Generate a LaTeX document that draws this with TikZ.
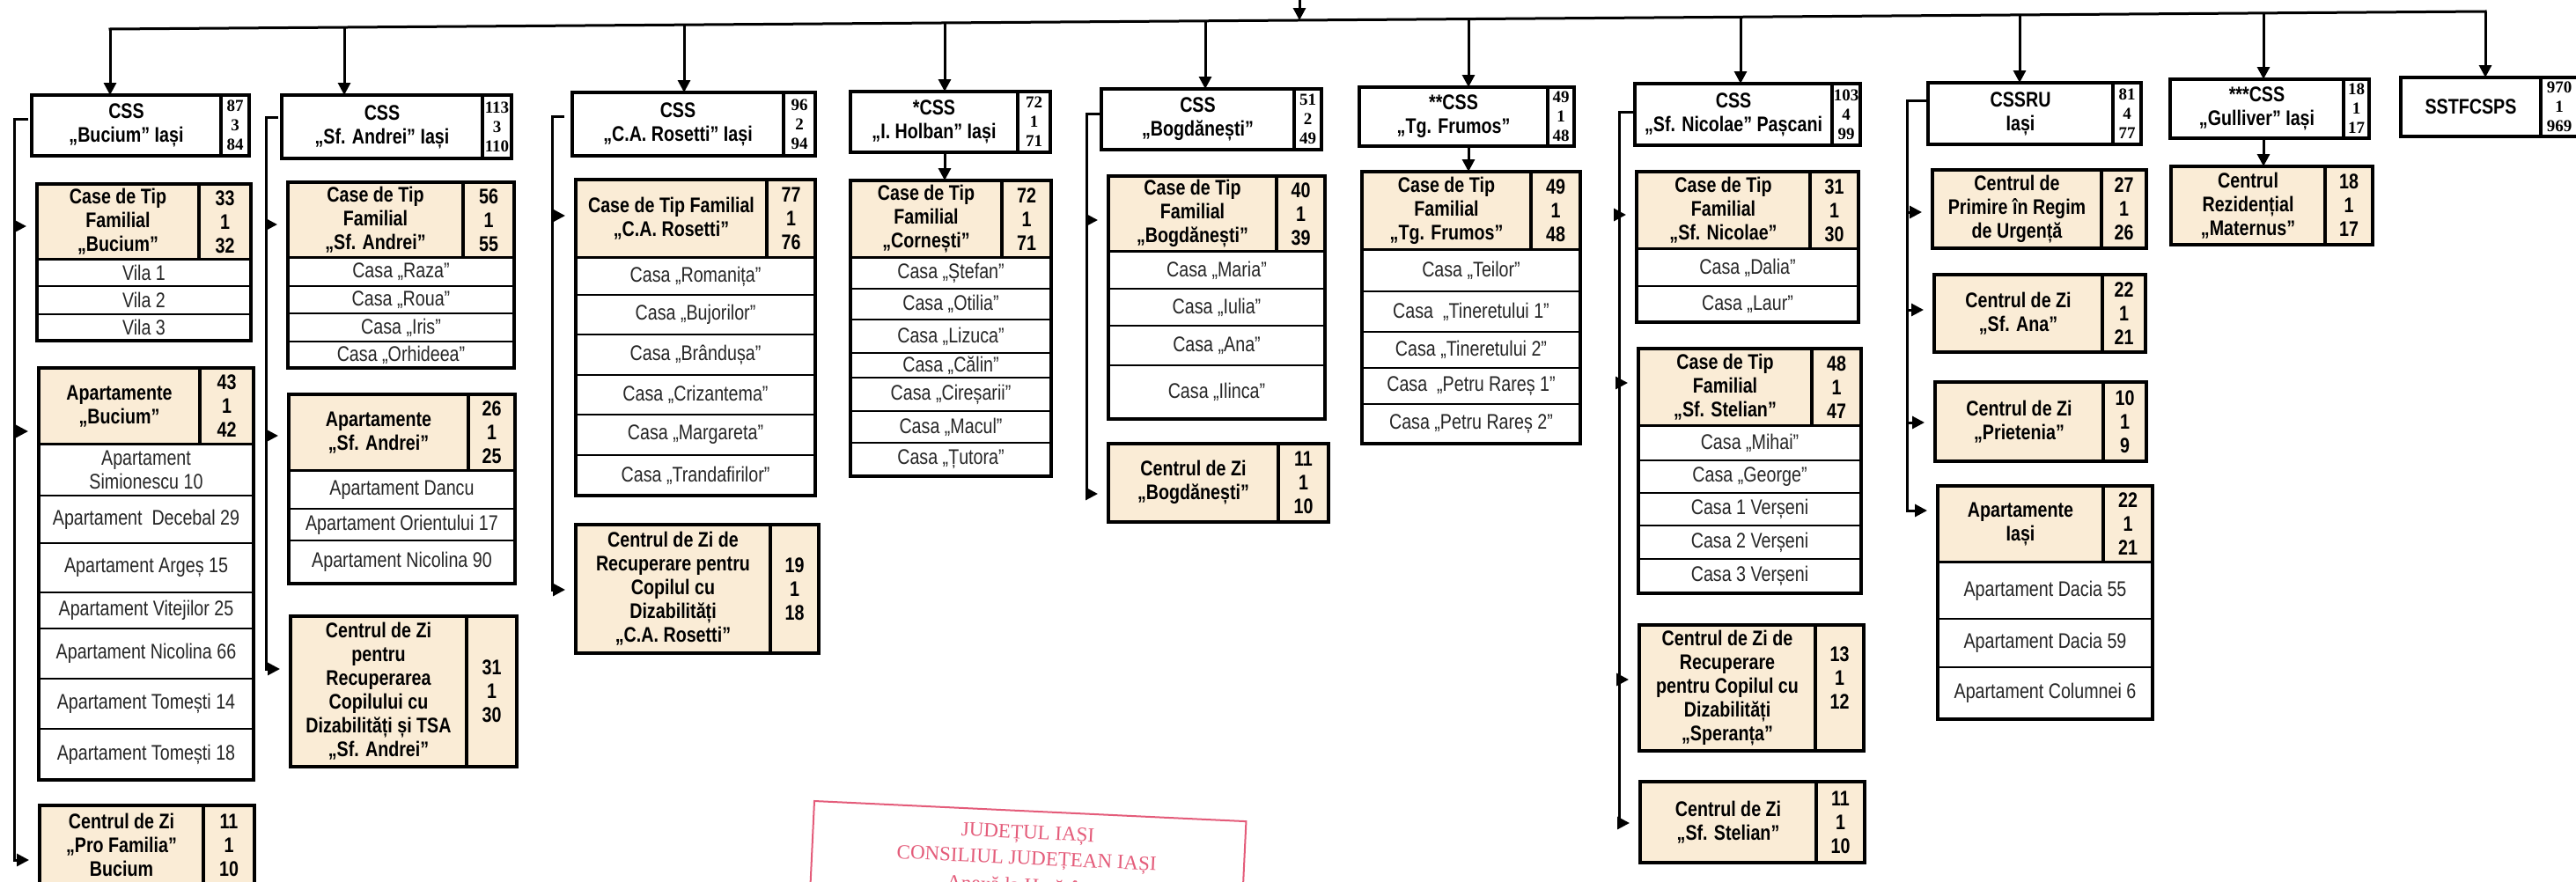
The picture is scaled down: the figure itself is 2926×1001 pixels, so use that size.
\documentclass[tikz,border=0pt]{standalone}
\usepackage{fontspec}
\setmainfont{Liberation Sans}[FakeStretch=0.82]
\newfontfamily\numfont{Liberation Serif}
\newfontfamily\stampfont{Liberation Serif}
\usetikzlibrary{fit,arrows.meta,calc}
\definecolor{beige}{RGB}{250,236,214}
\definecolor{stampred}{RGB}{228,92,122}
% name, box style, text style, x1, y1, x2, y2, text
\newcommand\cell[8]{\node[#2, fit={(#4,#5) (#6,#7)}] (#1) {};\node[#3] (#1t) at (#1.center) {#8};}
\begin{document}
\begin{tikzpicture}[x=0.5pt,y=-0.5pt,
  every node/.style={inner sep=0pt, outer sep=0pt},
  cb/.style={draw, line width=2pt, fill=white},
  hb/.style={draw, line width=2pt, fill=beige},
  rb/.style={draw, line width=1.2pt, fill=white},
  bt/.style={align=center, font=\bfseries\fontsize{12}{13.5}\selectfont},
  nt/.style={align=center, font=\numfont\bfseries\fontsize{9.5}{11}\selectfont},
  rt/.style={align=center, font=\fontsize{12}{13.5}\selectfont, text=black!85},
  outer/.style={draw, line width=2pt},
  conn/.style={line width=1.5pt, line cap=rect, line join=miter},
  tip/.style={-{Triangle[length=7pt,width=7pt]}, line cap=butt},
  side/.style={line width=1.5pt, -{Triangle[length=7pt,width=7pt]}, shorten >=6pt},
  stamp/.style={text=stampred, font=\stampfont\fontsize{11.5}{13}\selectfont}]
\useasboundingbox (0,0) rectangle (2926,1001);
\clip (0,0) rectangle (2926,1001);
\fill[white] (0,0) rectangle (2926,1001);

% ---------- top bus coordinates
\coordinate (t1) at (125,33);
\coordinate (t2) at (391,31);
\coordinate (t3) at (777,28.2);
\coordinate (t4) at (1073,26);
\coordinate (t5) at (1369,23.8);
\coordinate (tc) at (1476,23);
\coordinate (t6) at (1668,21.6);
\coordinate (t7) at (1977,19.3);
\coordinate (t8) at (2294,16.9);
\coordinate (t9) at (2571,14.9);
\coordinate (t10) at (2823,13);
\coordinate (top) at (1476,-5);

% ---------- CSS boxes
\cell{c1a}{cb}{bt}{36}{108}{251}{177}{CSS\\„Bucium” Iași}
\cell{c1b}{cb}{nt}{251}{108}{283}{177}{87\\3\\84}
\node[outer, fit={(36,108) (283,177)}] (c1) {};
\cell{c2a}{cb}{bt}{320}{108}{548}{180}{CSS\\„Sf. Andrei” Iași}
\cell{c2b}{cb}{nt}{548}{108}{581}{180}{113\\3\\110}
\node[outer, fit={(320,108) (581,180)}] (c2) {};
\cell{c3a}{cb}{bt}{650}{105}{890}{177}{CSS\\„C.A. Rosetti” Iași}
\cell{c3b}{cb}{nt}{890}{105}{926}{177}{96\\2\\94}
\node[outer, fit={(650,105) (926,177)}] (c3) {};
\cell{c4a}{cb}{bt}{966}{104}{1156}{173}{*CSS\\„I. Holban” Iași}
\cell{c4b}{cb}{nt}{1156}{104}{1193}{173}{72\\1\\71}
\node[outer, fit={(966,104) (1193,173)}] (c4) {};
\cell{c5a}{cb}{bt}{1251}{101}{1470}{170}{CSS\\„Bogdănești”}
\cell{c5b}{cb}{nt}{1470}{101}{1501}{170}{51\\2\\49}
\node[outer, fit={(1251,101) (1501,170)}] (c5) {};
\cell{c6a}{cb}{bt}{1544}{99}{1758}{166}{**CSS\\„Tg. Frumos”}
\cell{c6b}{cb}{nt}{1758}{99}{1788}{166}{49\\1\\48}
\node[outer, fit={(1544,99) (1788,166)}] (c6) {};
\cell{c7a}{cb}{bt}{1857}{95}{2081}{165}{CSS\\„Sf. Nicolae” Pașcani}
\cell{c7b}{cb}{nt}{2081}{95}{2113}{165}{103\\4\\99}
\node[outer, fit={(1857,95) (2113,165)}] (c7) {};
\cell{c8a}{cb}{bt}{2190}{94}{2400}{164}{CSSRU\\Iași}
\cell{c8b}{cb}{nt}{2400}{94}{2432}{164}{81\\4\\77}
\node[outer, fit={(2190,94) (2432,164)}] (c8) {};
\cell{c9a}{cb}{bt}{2465}{90}{2662}{157}{***CSS\\„Gulliver” Iași}
\cell{c9b}{cb}{nt}{2662}{90}{2691}{157}{18\\1\\17}
\node[outer, fit={(2465,90) (2691,157)}] (c9) {};
\cell{c10a}{cb}{bt}{2727}{88}{2886}{155}{SSTFCSPS}
\node[cb, fit={(2886,88) (2932,155)}] (c10b) {};
\node[nt] (c10bt) at (2907,121.5) {970\\1\\969};
\node[outer, fit={(2727,88) (2932,155)}] (c10) {};

% ---------- column 1
\cell{g1h}{hb}{bt}{42}{209}{226}{295}{Case de Tip\\Familial\\„Bucium”}
\cell{g1n}{hb}{bt}{226}{209}{285}{295}{33\\1\\32}
\cell{g1a}{rb}{rt}{42}{295}{285}{325}{Vila 1}
\cell{g1b}{rb}{rt}{42}{325}{285}{357}{Vila 2}
\cell{g1c}{rb}{rt}{42}{357}{285}{387}{Vila 3}
\node[outer, fit={(42,209) (285,387)}] (g1) {};

\cell{g2h}{hb}{bt}{44}{418}{227}{505}{Apartamente\\„Bucium”}
\cell{g2n}{hb}{bt}{227}{418}{288}{505}{43\\1\\42}
\cell{g2a}{rb}{rt}{44}{505}{288}{563}{Apartament\\Simionescu 10}
\cell{g2b}{rb}{rt}{44}{563}{288}{617}{Apartament~~Decebal 29}
\cell{g2c}{rb}{rt}{44}{617}{288}{673}{Apartament Argeș 15}
\cell{g2d}{rb}{rt}{44}{673}{288}{714}{Apartament Vitejilor 25}
\cell{g2e}{rb}{rt}{44}{714}{288}{771}{Apartament Nicolina 66}
\cell{g2f}{rb}{rt}{44}{771}{288}{828}{Apartament Tomești 14}
\cell{g2g}{rb}{rt}{44}{828}{288}{886}{Apartament Tomești 18}
\node[outer, fit={(44,418) (288,886)}] (g2) {};

\node[hb, fit={(45,915) (231,1006)}] (g3h) {};
\node[bt] (g3ht) at (138,960) {Centrul de Zi\\„Pro Familia”\\Bucium};
\node[hb, fit={(231,915) (289,1006)}] (g3n) {};
\node[bt] (g3nt) at (260,960) {11\\1\\10};
\node[outer, fit={(45,915) (289,1006)}] (g3) {};

% ---------- column 2
\cell{g4h}{hb}{bt}{327}{207}{526}{293}{Case de Tip\\Familial\\„Sf. Andrei”}
\cell{g4n}{hb}{bt}{526}{207}{584}{293}{56\\1\\55}
\cell{g4a}{rb}{rt}{327}{293}{584}{325}{Casa „Raza"}
\cell{g4b}{rb}{rt}{327}{325}{584}{356}{Casa „Roua"}
\cell{g4c}{rb}{rt}{327}{356}{584}{388}{Casa „Iris"}
\cell{g4d}{rb}{rt}{327}{388}{584}{418}{Casa „Orhideea"}
\node[outer, fit={(327,207) (584,418)}] (g4) {};

\cell{g5h}{hb}{bt}{328}{448}{532}{535}{Apartamente\\„Sf. Andrei”}
\cell{g5n}{hb}{bt}{532}{448}{585}{535}{26\\1\\25}
\cell{g5a}{rb}{rt}{328}{535}{585}{578}{Apartament Dancu}
\cell{g5b}{rb}{rt}{328}{578}{585}{614}{Apartament Orientului 17}
\cell{g5c}{rb}{rt}{328}{614}{585}{663}{Apartament Nicolina 90}
\node[outer, fit={(328,448) (585,663)}] (g5) {};

\cell{g6h}{hb}{bt}{330}{700}{530}{871}{Centrul de Zi\\pentru\\Recuperarea\\Copilului cu\\Dizabilități și TSA\\„Sf. Andrei”}
\cell{g6n}{hb}{bt}{530}{700}{587}{871}{31\\1\\30}
\node[outer, fit={(330,700) (587,871)}] (g6) {};

% ---------- column 3
\cell{g7h}{hb}{bt}{654}{204}{871}{293}{Case de Tip Familial\\„C.A. Rosetti”}
\cell{g7n}{hb}{bt}{871}{204}{926}{293}{77\\1\\76}
\cell{g7a}{rb}{rt}{654}{293}{926}{335}{Casa „Romanița"}
\cell{g7b}{rb}{rt}{654}{335}{926}{380}{Casa „Bujorilor"}
\cell{g7c}{rb}{rt}{654}{380}{926}{426}{Casa „Brândușa"}
\cell{g7d}{rb}{rt}{654}{426}{926}{471}{Casa „Crizantema"}
\cell{g7e}{rb}{rt}{654}{471}{926}{517}{Casa „Margareta"}
\cell{g7f}{rb}{rt}{654}{517}{926}{563}{Casa „Trandafirilor"}
\node[outer, fit={(654,204) (926,563)}] (g7) {};

\cell{g8h}{hb}{bt}{654}{596}{875}{742}{Centrul de Zi de\\Recuperare pentru\\Copilul cu\\Dizabilități\\„C.A. Rosetti”}
\cell{g8n}{hb}{bt}{875}{596}{930}{742}{19\\1\\18}
\node[outer, fit={(654,596) (930,742)}] (g8) {};

% ---------- column 4
\cell{g9h}{hb}{bt}{966}{205}{1138}{293}{Case de Tip\\Familial\\„Cornești”}
\cell{g9n}{hb}{bt}{1138}{205}{1194}{293}{72\\1\\71}
\cell{g9a}{rb}{rt}{966}{293}{1194}{328}{Casa „Ștefan"}
\cell{g9b}{rb}{rt}{966}{328}{1194}{363}{Casa „Otilia"}
\cell{g9c}{rb}{rt}{966}{363}{1194}{401}{Casa „Lizuca"}
\cell{g9d}{rb}{rt}{966}{401}{1194}{429}{Casa „Călin"}
\cell{g9e}{rb}{rt}{966}{429}{1194}{467}{Casa „Cireșarii"}
\cell{g9f}{rb}{rt}{966}{467}{1194}{503}{Casa „Macul"}
\cell{g9g}{rb}{rt}{966}{503}{1194}{541}{Casa „Țutora"}
\node[outer, fit={(966,205) (1194,541)}] (g9) {};

% ---------- column 5
\cell{g10h}{hb}{bt}{1259}{200}{1450}{286}{Case de Tip\\Familial\\„Bogdănești”}
\cell{g10n}{hb}{bt}{1450}{200}{1505}{286}{40\\1\\39}
\cell{g10a}{rb}{rt}{1259}{286}{1505}{328}{Casa „Maria"}
\cell{g10b}{rb}{rt}{1259}{328}{1505}{370}{Casa „Iulia"}
\cell{g10c}{rb}{rt}{1259}{370}{1505}{415}{Casa „Ana"}
\cell{g10d}{rb}{rt}{1259}{415}{1505}{476}{Casa „Ilinca"}
\node[outer, fit={(1259,200) (1505,476)}] (g10) {};

\cell{g11h}{hb}{bt}{1259}{504}{1452}{593}{Centrul de Zi\\„Bogdănești”}
\cell{g11n}{hb}{bt}{1452}{504}{1509}{593}{11\\1\\10}
\node[outer, fit={(1259,504) (1509,593)}] (g11) {};

% ---------- column 6
\cell{g12h}{hb}{bt}{1547}{195}{1739}{284}{Case de Tip\\Familial\\„Tg. Frumos”}
\cell{g12n}{hb}{bt}{1739}{195}{1795}{284}{49\\1\\48}
\cell{g12a}{rb}{rt}{1547}{284}{1795}{331}{Casa „Teilor"}
\cell{g12b}{rb}{rt}{1547}{331}{1795}{377}{Casa~~„Tineretului 1"}
\cell{g12c}{rb}{rt}{1547}{377}{1795}{418}{Casa „Tineretului 2"}
\cell{g12d}{rb}{rt}{1547}{418}{1795}{459}{Casa~~„Petru Rareș 1"}
\cell{g12e}{rb}{rt}{1547}{459}{1795}{504}{Casa „Petru Rareș 2"}
\node[outer, fit={(1547,195) (1795,504)}] (g12) {};

% ---------- column 7
\cell{g13h}{hb}{bt}{1859}{195}{2056}{283}{Case de Tip\\Familial\\„Sf. Nicolae”}
\cell{g13n}{hb}{bt}{2056}{195}{2111}{283}{31\\1\\30}
\cell{g13a}{rb}{rt}{1859}{283}{2111}{325}{Casa „Dalia"}
\cell{g13b}{rb}{rt}{1859}{325}{2111}{366}{Casa „Laur"}
\node[outer, fit={(1859,195) (2111,366)}] (g13) {};

\cell{g14h}{hb}{bt}{1861}{396}{2058}{484}{Case de Tip\\Familial\\„Sf. Stelian”}
\cell{g14n}{hb}{bt}{2058}{396}{2114}{484}{48\\1\\47}
\cell{g14a}{rb}{rt}{1861}{484}{2114}{523}{Casa „Mihai"}
\cell{g14b}{rb}{rt}{1861}{523}{2114}{560}{Casa „George"}
\cell{g14c}{rb}{rt}{1861}{560}{2114}{597}{Casa 1 Verșeni}
\cell{g14d}{rb}{rt}{1861}{597}{2114}{635}{Casa 2 Verșeni}
\cell{g14e}{rb}{rt}{1861}{635}{2114}{674}{Casa 3 Verșeni}
\node[outer, fit={(1861,396) (2114,674)}] (g14) {};

\cell{g15h}{hb}{bt}{1862}{710}{2062}{853}{Centrul de Zi de\\Recuperare\\pentru Copilul cu\\Dizabilități\\„Speranța”}
\node[hb, fit={(2062,710) (2117,853)}] (g15n) {};
\node[bt] (g15nt) at (2089.5,770) {13\\1\\12};
\node[outer, fit={(1862,710) (2117,853)}] (g15) {};

\cell{g16h}{hb}{bt}{1863}{888}{2063}{980}{Centrul de Zi\\„Sf. Stelian”}
\cell{g16n}{hb}{bt}{2063}{888}{2118}{980}{11\\1\\10}
\node[outer, fit={(1863,888) (2118,980)}] (g16) {};

% ---------- column 8
\cell{g17h}{hb}{bt}{2195}{193}{2387}{282}{Centrul de\\Primire în Regim\\de Urgență}
\cell{g17n}{hb}{bt}{2387}{193}{2438}{282}{27\\1\\26}
\node[outer, fit={(2195,193) (2438,282)}] (g17) {};
\cell{g18h}{hb}{bt}{2197}{312}{2388}{400}{Centrul de Zi\\„Sf. Ana”}
\cell{g18n}{hb}{bt}{2388}{312}{2437}{400}{22\\1\\21}
\node[outer, fit={(2197,312) (2437,400)}] (g18) {};
\cell{g19h}{hb}{bt}{2198}{434}{2389}{524}{Centrul de Zi\\„Prietenia”}
\cell{g19n}{hb}{bt}{2389}{434}{2438}{524}{10\\1\\9}
\node[outer, fit={(2198,434) (2438,524)}] (g19) {};
\cell{g20h}{hb}{bt}{2201}{552}{2389}{639}{Apartamente\\Iași}
\cell{g20n}{hb}{bt}{2389}{552}{2445}{639}{22\\1\\21}
\cell{g20a}{rb}{rt}{2201}{639}{2445}{703}{Apartament Dacia 55}
\cell{g20b}{rb}{rt}{2201}{703}{2445}{758}{Apartament Dacia 59}
\cell{g20c}{rb}{rt}{2201}{758}{2445}{817}{Apartament Columnei 6}
\node[outer, fit={(2201,552) (2445,817)}] (g20) {};

% ---------- column 9
\cell{g21h}{hb}{bt}{2466}{189}{2641}{278}{Centrul\\Rezidențial\\„Maternus”}
\cell{g21n}{hb}{bt}{2641}{189}{2695}{278}{18\\1\\17}
\node[outer, fit={(2466,189) (2695,278)}] (g21) {};

% ---------- top bus and arrows
\draw[conn] (t1) -- (t10);
\draw[conn,tip] (top) -- (tc);
\draw[conn,tip] (t1) -- (t1 |- c1.north);
\draw[conn,tip] (t2) -- (t2 |- c2.north);
\draw[conn,tip] (t3) -- (t3 |- c3.north);
\draw[conn,tip] (t4) -- (t4 |- c4.north);
\draw[conn,tip] (t5) -- (t5 |- c5.north);
\draw[conn,tip] (t6) -- (t6 |- c6.north);
\draw[conn,tip] (t7) -- (t7 |- c7.north);
\draw[conn,tip] (t8) -- (t8 |- c8.north);
\draw[conn,tip] (t9) -- (t9 |- c9.north);
\draw[conn,tip] (t10) -- (t10 |- c10.north);
% direct children
\draw[conn,tip] (t4 |- c4.south) -- (t4 |- g9.north);
\draw[conn,tip] (t6 |- c6.south) -- (t6 |- g12.north);
\draw[conn,tip] (t9 |- c9.south) -- (t9 |- g21.north);

% ---------- brackets
\coordinate (b1) at (30,135);
\coordinate (s1a) at (16,257); \coordinate (s1b) at (16,490); \coordinate (s1c) at (16,977);
\draw[conn] (b1) -| (s1c);
\draw[side] (s1a) -- (s1a -| g1.west);
\draw[side] (s1b) -- (s1b -| g2.west);
\draw[side] (s1c) -- (s1c -| g3.west);

\coordinate (b2) at (314,133);
\coordinate (s2a) at (302,255); \coordinate (s2b) at (302,495); \coordinate (s2c) at (302,760);
\draw[conn] (b2) -| (s2c);
\draw[side] (s2a) -- (s2a -| g4.west);
\draw[side] (s2b) -- (s2b -| g5.west);
\draw[side] (s2c) -- (s2c -| g6.west);

\coordinate (b3) at (639,132);
\coordinate (s3a) at (627,245); \coordinate (s3b) at (627,670);
\draw[conn] (b3) -| (s3b);
\draw[side] (s3a) -- (s3a -| g7.west);
\draw[side] (s3b) -- (s3b -| g8.west);

\coordinate (b5) at (1247,129);
\coordinate (s5a) at (1234,250); \coordinate (s5b) at (1234,561);
\draw[conn] (b5) -| (s5b);
\draw[side] (s5a) -- (s5a -| g10.west);
\draw[side] (s5b) -- (s5b -| g11.west);

\coordinate (b7) at (1854,127);
\coordinate (s7a) at (1839,244); \coordinate (s7b) at (1839,435);
\coordinate (s7c) at (1839,772); \coordinate (s7d) at (1839,935);
\draw[conn] (b7) -| (s7d);
\draw[side] (s7a) -- (s7a -| g13.west);
\draw[side] (s7b) -- (s7b -| g14.west);
\draw[side] (s7c) -- (s7c -| g15.west);
\draw[side] (s7d) -- (s7d -| g16.west);

\coordinate (b8) at (2188,114);
\coordinate (s8a) at (2166,241); \coordinate (s8b) at (2166,352);
\coordinate (s8c) at (2166,480); \coordinate (s8d) at (2166,580);
\draw[conn] (b8) -| (s8d);
\draw[side] (s8a) -- (s8a -| g17.west);
\draw[side] (s8b) -- (s8b -| g18.west);
\draw[side] (s8c) -- (s8c -| g19.west);
\draw[side] (s8d) -- (s8d -| g20.west);

% ---------- stamp
\begin{scope}[rotate around={-2.7:(925,910)}, transform shape]
\draw[stampred, line width=1pt] (925,1100) -- (925,910) -- (1416,910) -- (1416,1100);
\node[stamp] (st1) at (1169,936.5) {JUDEȚUL IAȘI};
\node[stamp] (st2) at (1169,965.5) {CONSILIUL JUDEȚEAN IAȘI};
\node[stamp] (st3) at (1169,994.5) {Anexă la Hotărârea};
\end{scope}
\end{tikzpicture}
\end{document}
